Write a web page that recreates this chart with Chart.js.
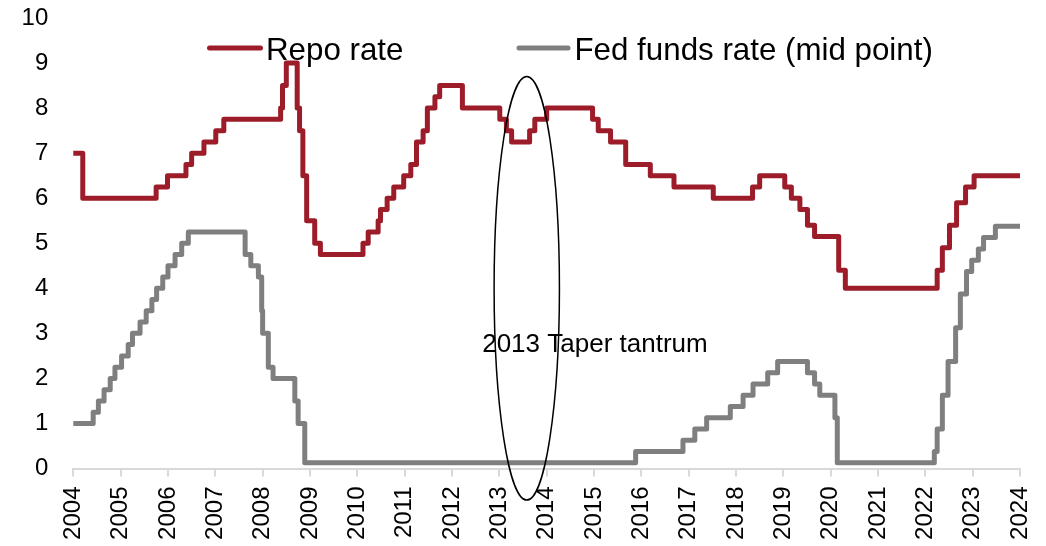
<!DOCTYPE html>
<html>
<head>
<meta charset="utf-8">
<script src="https://cdn.jsdelivr.net/npm/chart.js@4.4.1/dist/chart.umd.min.js"></script>
<style>
  html, body { margin: 0; padding: 0; background: #fff; }
  #wrap { width: 1046px; height: 546px; position: relative; }
</style>
</head>
<body>
<div id="wrap"><canvas id="rateChart"></canvas></div>
<script>
// change points: year (decimal) where the new rate starts
const repoYears = [2004.00, 2004.20, 2005.75, 2005.99, 2006.38, 2006.50, 2006.76, 2007.01, 2007.18,
    2008.38, 2008.42, 2008.50, 2008.73, 2008.78, 2008.85, 2008.93, 2009.10, 2009.22,
    2010.12, 2010.23, 2010.44, 2010.49, 2010.63, 2010.77, 2010.98, 2011.13, 2011.25, 2011.39,
    2011.48, 2011.64, 2011.74, 2012.22, 2013.01, 2013.15, 2013.26, 2013.64, 2013.75, 2014.00,
    2014.97, 2015.09, 2015.35, 2015.67, 2016.19, 2016.69, 2017.52, 2018.35, 2018.50, 2019.03,
    2019.17, 2019.35, 2019.51, 2019.66, 2020.17, 2020.31, 2022.25, 2022.36, 2022.51, 2022.66,
    2022.85, 2023.03, 2024.00];
const repoRates = [7.0, 6.0, 6.25, 6.5, 6.75, 7.0, 7.25, 7.5, 7.75,
    8.0, 8.5, 9.0, 8.0, 7.5, 6.5, 5.5, 5.0, 4.75,
    5.0, 5.25, 5.5, 5.75, 6.0, 6.25, 6.5, 6.75, 7.25, 7.5,
    8.0, 8.25, 8.5, 8.0, 7.75, 7.5, 7.25, 7.5, 7.75, 8.0,
    7.75, 7.5, 7.25, 6.75, 6.5, 6.25, 6.0, 6.25, 6.5, 6.25,
    6.0, 5.75, 5.4, 5.15, 4.4, 4.0, 4.4, 4.9, 5.4, 5.9,
    6.25, 6.5, 6.5];

const fedYears = [2004.00, 2004.42, 2004.53, 2004.65, 2004.78, 2004.88, 2005.02, 2005.16, 2005.25,
    2005.41, 2005.54, 2005.66, 2005.76, 2005.89, 2006.00, 2006.15, 2006.29, 2006.43,
    2007.63, 2007.75, 2007.91, 2007.98, 2008.00, 2008.12, 2008.22, 2008.68, 2008.75, 2008.89,
    2015.88, 2016.88, 2017.13, 2017.38, 2017.88, 2018.15, 2018.36, 2018.67, 2018.88,
    2019.51, 2019.66, 2019.77, 2020.09, 2020.14, 2022.19, 2022.25, 2022.36, 2022.48,
    2022.64, 2022.74, 2022.87, 2022.98, 2023.12, 2023.23, 2023.48, 2024.00];
const fedRates = [1.0, 1.25, 1.5, 1.75, 2.0, 2.25, 2.5, 2.75, 3.0,
    3.25, 3.5, 3.75, 4.0, 4.25, 4.5, 4.75, 5.0, 5.25,
    4.75, 4.5, 4.25, 3.5, 3.0, 2.25, 2.0, 1.5, 1.0, 0.125,
    0.375, 0.625, 0.875, 1.125, 1.375, 1.625, 1.875, 2.125, 2.375,
    2.125, 1.875, 1.625, 1.125, 0.125, 0.375, 0.875, 1.625, 2.375,
    3.125, 3.875, 4.375, 4.625, 4.875, 5.125, 5.375, 5.375];

const seriesNames = ["Repo rate", "Fed funds rate (mid point)"];
const seriesColors = ["#9d1c29", "#7f7f7f"];

// annotation: ellipse around the taper tantrum, in data units
const taperCenter = [2013.58, 4.0];
const taperRadius = [0.69, 4.7];
const taperLabel = "2013 Taper tantrum";
const taperLabelAt = [2015.02, 2.59];

const FONT = "'Liberation Sans', Arial, sans-serif";

const toPoints = (xs, ys) => xs.map((x, i) => ({ x: x, y: ys[i] }));

/* legend drawn on top of the plot, like the original */
const topLegend = {
    id: "topLegend",
    afterDraw(chart) {
        const ctx = chart.ctx;
        const items = [
            { x0: 209.5, x1: 260.5, tx: 266 },
            { x0: 519, x1: 568, tx: 574.5 }
        ];
        ctx.save();
        ctx.font = "31.3px " + FONT;
        ctx.textBaseline = "alphabetic";
        ctx.fillStyle = "#000";
        chart.data.datasets.forEach((ds, i) => {
            const it = items[i];
            ctx.beginPath();
            ctx.strokeStyle = ds.borderColor;
            ctx.lineWidth = 5;
            ctx.lineCap = "round";
            ctx.moveTo(it.x0, 48);
            ctx.lineTo(it.x1, 48);
            ctx.stroke();
            ctx.fillText(ds.label, it.tx, 59.5);
        });
        ctx.restore();
    }
};

const taperMark = {
    id: "taperMark",
    afterDatasetsDraw(chart) {
        const { ctx, scales: { x, y } } = chart;
        const cx = x.getPixelForValue(taperCenter[0]);
        const cy = y.getPixelForValue(taperCenter[1]);
        const rx = Math.abs(x.getPixelForValue(taperCenter[0] + taperRadius[0]) - cx);
        const ry = Math.abs(y.getPixelForValue(taperCenter[1] + taperRadius[1]) - cy);
        ctx.save();
        ctx.beginPath();
        ctx.ellipse(cx, cy, rx, ry, 0, 0, Math.PI * 2);
        ctx.strokeStyle = "#000";
        ctx.lineWidth = 1.5;
        ctx.stroke();
        ctx.font = "26px " + FONT;
        ctx.fillStyle = "#000";
        ctx.textAlign = "center";
        ctx.textBaseline = "alphabetic";
        ctx.fillText(taperLabel, x.getPixelForValue(taperLabelAt[0]), y.getPixelForValue(taperLabelAt[1]));
        ctx.restore();
    }
};

new Chart(document.getElementById("rateChart"), {
    type: "line",
    data: {
        datasets: [
            {
                label: seriesNames[0],
                data: toPoints(repoYears, repoRates),
                borderColor: seriesColors[0],
                borderWidth: 5,
                stepped: true,
                pointRadius: 0,
                borderJoinStyle: "round",
                borderCapStyle: "round",
                fill: false
            },
            {
                label: seriesNames[1],
                data: toPoints(fedYears, fedRates),
                borderColor: seriesColors[1],
                borderWidth: 5,
                stepped: true,
                pointRadius: 0,
                borderJoinStyle: "round",
                borderCapStyle: "round",
                fill: false
            }
        ]
    },
    options: {
        responsive: true,
        maintainAspectRatio: false,
        animation: false,
        layout: { padding: { top: 18, right: 26, bottom: 0, left: 0 } },
        plugins: {
            legend: { display: false },
            tooltip: { enabled: false }
        },
        scales: {
            x: {
                type: "linear",
                min: 2004,
                max: 2024,
                afterFit: s => {
                    s.height = 77.5;
                    s.paddingLeft = 0;
                    s.paddingRight = 0;
                },
                ticks: {
                    stepSize: 1,
                    autoSkip: false,
                    minRotation: 90,
                    maxRotation: 90,
                    padding: 10,
                    color: "#000",
                    font: { family: FONT, size: 24 },
                    callback: v => String(v)
                },
                grid: {
                    drawOnChartArea: false,
                    drawTicks: true,
                    tickLength: 8,
                    color: "#d9d9d9",
                    lineWidth: 2
                },
                border: { display: true, color: "#d9d9d9", width: 2 }
            },
            y: {
                min: 0,
                max: 10,
                afterFit: s => {
                    s.width = 73.3;
                    s.paddingTop = 0;
                    s.paddingBottom = 0;
                },
                ticks: {
                    stepSize: 1,
                    padding: 25,
                    color: "#000",
                    font: { family: FONT, size: 24 }
                },
                grid: { display: false, drawTicks: false, tickLength: 0 },
                border: { display: false }
            }
        }
    },
    plugins: [taperMark, topLegend]
});
</script>
</body>
</html>
